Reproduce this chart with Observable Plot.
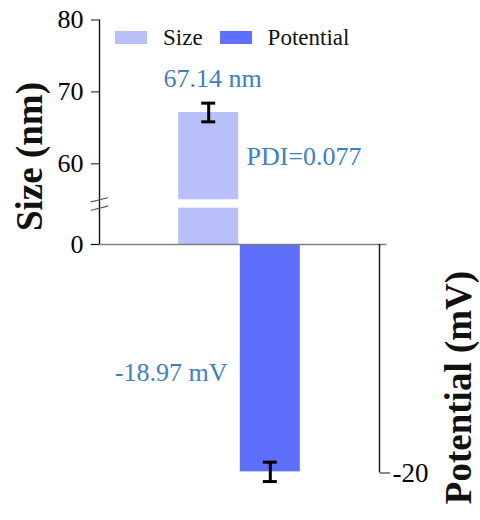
<!DOCTYPE html>
<html>
<head>
<meta charset="utf-8">
<script src="https://cdn.jsdelivr.net/npm/d3@7"></script>
<script src="https://cdn.jsdelivr.net/npm/@observablehq/plot@0.6"></script>
<style>
  html, body { margin: 0; padding: 0; background: #fff; }
  #wrap { position: relative; width: 480px; height: 520px; }
  #legend { position: absolute; left: 115px; top: 21px; }
  .lg-swatches { font-family: "Liberation Serif", serif !important; font-size: 23px !important; color: #111; margin: 0 !important; }
  .lg-swatch { margin-right: 17px !important; }
  .lg-swatch > svg { margin-right: 16px !important; }
</style>
</head>
<body>
<div id="wrap"><div id="chart"></div><div id="legend"></div></div>
<script>
// ---- data ----
const categories = ["Size", "Potential"];
const units = ["nm", "mV"];
const values = [67.14, -19.9];       // bar heights as drawn
const errors = [1.3, 0.85];          // error bar half-lengths
const labels = ["67.14 nm", "-18.97 mV"];
const pdiLabel = "PDI=0.077";
const colors = ["#b9bff9", "#5d6ffb"];
const sizeTicks = [0, 60, 70, 80];
const potentialTicks = [-20];
const breakValues = [5, 55];         // axis break on the Size axis
const textBlue = "#3d80c2";
const serif = "Liberation Serif";

const bars = categories.map((c, i) => ({name: c, i: i + 1, value: values[i], err: errors[i], label: labels[i], color: colors[i]}));
const sizeBar = bars[0], potBar = bars[1];

const pad = 1.273;
const xDomain = [1 - pad, categories.length + 1 + pad];

const slash = {draw(ctx, l) { ctx.moveTo(0, 0); ctx.lineTo(0, -l); }};

const chart = Plot.plot({
  width: 480,
  height: 520,
  marginLeft: 99,
  marginRight: 101,
  marginTop: 19.5,
  marginBottom: 47.5,
  style: {fontFamily: serif, background: "transparent", overflow: "visible"},
  x: {type: "linear", domain: xDomain, axis: null},
  y: {type: "linear", domain: [-20, 0, breakValues[0], breakValues[1], 80], range: [472.5, 244, 207.7, 199.3, 19.5], axis: null},
  color: {type: "identity"},
  marks: [
    // bars
    Plot.rectY(bars, {x1: "i", x2: d => d.i + 1, y1: 0, y2: "value", fill: "color", insetLeft: 0.8, insetRight: 0.8}),
    // break gap in the Size bar
    Plot.rectY([sizeBar], {x1: "i", x2: d => d.i + 1, y1: breakValues[0], y2: breakValues[1], fill: "white"}),
    // zero line
    Plot.ruleY([0], {stroke: "#7f7f7f", strokeWidth: 1.5, insetLeft: -8.5, insetRight: -7.5}),
    // axis lines
    Plot.ruleX([xDomain[0]], {y1: 0, y2: 80, stroke: "#111", strokeWidth: 1.4}),
    Plot.ruleX([xDomain[1]], {y1: -20, y2: 0, stroke: "#111", strokeWidth: 1.4}),
    // break marks
    Plot.vector(breakValues, {x: xDomain[0], y: d => d, length: 17, rotate: 76, anchor: "middle", shape: slash, stroke: "#555", strokeWidth: 1.1}),
    // axes
    Plot.axisY({anchor: "left", ticks: sizeTicks, tickSize: 8, tickPadding: 8, fontSize: 26, label: null, tickFormat: d => String(d), stroke: "#111"}),
    Plot.axisY({anchor: "right", ticks: potentialTicks, tickSize: 10, tickPadding: 3, fontSize: 27, label: null, tickFormat: d => String(d), stroke: "#111"}),
    // error bars
    Plot.ruleX(bars, {x: d => d.i + 0.5, y1: d => d.value - d.err, y2: d => d.value + d.err, stroke: "#000", strokeWidth: 3}),
    Plot.ruleY(bars, {y: d => d.value - d.err, x1: d => d.i + 0.5, x2: d => d.i + 0.5, insetLeft: -7, insetRight: -7, stroke: "#000", strokeWidth: 3}),
    Plot.ruleY(bars, {y: d => d.value + d.err, x1: d => d.i + 0.5, x2: d => d.i + 0.5, insetLeft: -7, insetRight: -7, stroke: "#000", strokeWidth: 3}),
    // annotations
    Plot.text([sizeBar], {x: d => d.i + 0.5, y: "value", text: "label", dx: 4, dy: -34, fontSize: 26, fill: textBlue}),
    Plot.text([sizeBar], {x: d => d.i + 1, y: "value", text: () => pdiLabel, textAnchor: "start", dx: 7, dy: 44, fontSize: 26, fill: textBlue}),
    Plot.text([potBar], {x: "i", y: "value", text: "label", textAnchor: "end", dx: -12, dy: -99, fontSize: 26, fill: textBlue}),
    // axis titles
    Plot.text([`${categories[0]} (${units[0]})`], {frameAnchor: "left", textAnchor: "middle", lineAnchor: "middle", text: d => d, rotate: -90, dx: -69, dy: -90, fontSize: 37, fontWeight: "bold", fill: "#111"}),
    Plot.text([`${categories[1]} (${units[1]})`], {frameAnchor: "right", textAnchor: "middle", lineAnchor: "middle", text: d => d, rotate: -90, dx: 80, dy: 141, fontSize: 37, fontWeight: "bold", fill: "#111"})
  ]
});
document.getElementById("chart").append(chart);

const legend = Plot.legend({
  color: {type: "ordinal", domain: categories, range: colors},
  swatchWidth: 32,
  swatchHeight: 13,
  className: "lg"
});
document.getElementById("legend").append(legend);
</script>
</body>
</html>
